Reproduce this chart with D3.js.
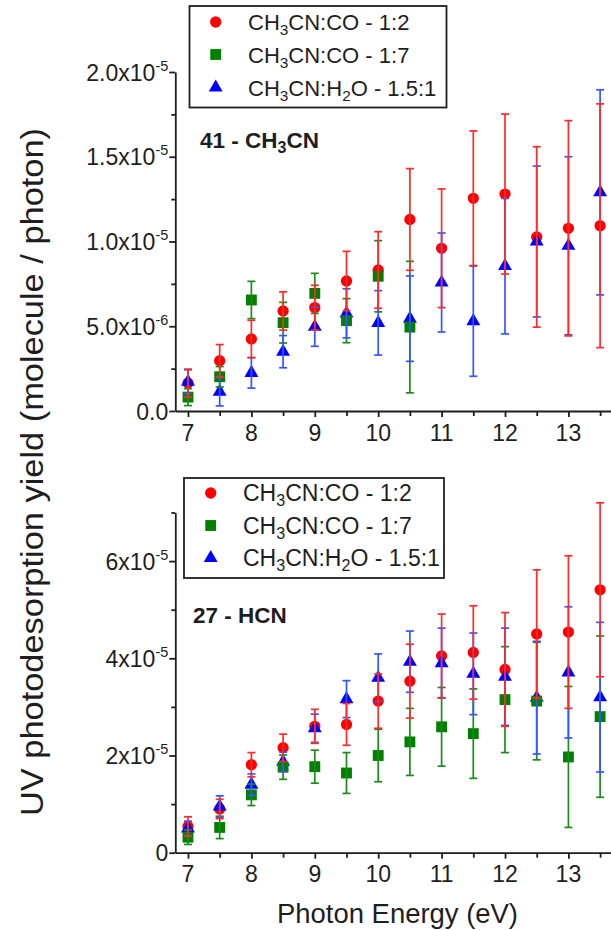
<!DOCTYPE html>
<html>
<head>
<meta charset="utf-8">
<script src="https://cdn.jsdelivr.net/npm/d3@7"></script>
<style>
  html, body { margin: 0; padding: 0; background: #fff; }
  svg { display: block; font-family: "Liberation Sans", Arial, Helvetica, sans-serif; }
</style>
</head>
<body>
<svg id="chart" width="611" height="930"></svg>
<script>
// Photon energies (eV) shared by both panels
const energy = [7, 7.5, 8, 8.5, 9, 9.5, 10, 10.5, 11, 11.5, 12, 12.5, 13, 13.5];

// Panel 1: m/z 41 (CH3CN) yields, molecule/photon
const ch3cn_co12 = [1.65e-6, 2.97e-6, 4.25e-6, 5.9e-6, 6.1e-6, 7.67e-6, 8.32e-6, 11.3e-6, 9.6e-6, 12.55e-6, 12.8e-6, 10.27e-6, 10.78e-6, 10.93e-6];
const ch3cn_co12_err = [0.82e-6, 0.95e-6, 1.1e-6, 1.13e-6, 1.32e-6, 1.75e-6, 2.26e-6, 3.0e-6, 3.5e-6, 3.97e-6, 4.72e-6, 5.32e-6, 6.35e-6, 7.19e-6];
const ch3cn_co17 = [0.82e-6, 2.02e-6, 6.55e-6, 5.21e-6, 6.94e-6, 5.33e-6, 7.95e-6, 4.95e-6];
const ch3cn_co17_err = [0.5e-6, 0.6e-6, 1.1e-6, 1.2e-6, 1.18e-6, 1.3e-6, 2.1e-6, 3.88e-6];
const ch3cn_h2o = [1.73e-6, 1.14e-6, 2.25e-6, 3.5e-6, 4.97e-6, 5.76e-6, 5.2e-6, 5.45e-6, 7.58e-6, 5.3e-6, 8.55e-6, 10.0e-6, 9.75e-6, 12.9e-6];
const ch3cn_h2o_err = [0.7e-6, 0.84e-6, 0.9e-6, 0.95e-6, 1.15e-6, 1.45e-6, 1.9e-6, 2.52e-6, 2.92e-6, 3.25e-6, 4.0e-6, 4.45e-6, 5.25e-6, 6.05e-6];

// Panel 2: m/z 27 (HCN) yields, molecule/photon
const hcn_co12 = [0.54e-5, 0.9e-5, 1.81e-5, 2.16e-5, 2.6e-5, 2.64e-5, 3.12e-5, 3.53e-5, 4.05e-5, 4.12e-5, 3.77e-5, 4.5e-5, 4.54e-5, 5.41e-5];
const hcn_co12_err = [0.2e-5, 0.2e-5, 0.25e-5, 0.28e-5, 0.35e-5, 0.43e-5, 0.56e-5, 0.76e-5, 0.86e-5, 0.96e-5, 1.17e-5, 1.32e-5, 1.57e-5, 1.79e-5];
const hcn_co17 = [0.32e-5, 0.52e-5, 1.19e-5, 1.76e-5, 1.77e-5, 1.64e-5, 2.0e-5, 2.28e-5, 2.59e-5, 2.45e-5, 3.15e-5, 3.12e-5, 1.97e-5, 2.8e-5];
const hcn_co17_err = [0.15e-5, 0.23e-5, 0.22e-5, 0.25e-5, 0.34e-5, 0.42e-5, 0.54e-5, 0.69e-5, 0.81e-5, 0.92e-5, 1.09e-5, 1.21e-5, 1.45e-5, 1.66e-5];
const hcn_h2o = [0.5e-5, 0.95e-5, 1.4e-5, 1.87e-5, 2.56e-5, 3.16e-5, 3.6e-5, 3.93e-5, 3.9e-5, 3.68e-5, 3.62e-5, 3.19e-5, 3.71e-5, 3.2e-5];
const hcn_h2o_err = [0.15e-5, 0.22e-5, 0.22e-5, 0.2e-5, 0.29e-5, 0.38e-5, 0.49e-5, 0.63e-5, 0.72e-5, 0.84e-5, 1.0e-5, 1.16e-5, 1.35e-5, 1.54e-5];

// Legend entries: alternating normal text / subscript pieces
const seriesNames = [
  ["CH", "3", "CN:CO - 1:2"],
  ["CH", "3", "CN:CO - 1:7"],
  ["CH", "3", "CN:H", "2", "O - 1.5:1"]
];

// Axis ticks and labels
const xMajor = [7, 8, 9, 10, 11, 12, 13];
const xMinor = [7.5, 8.5, 9.5, 10.5, 11.5, 12.5, 13.5];
const topYMajor = [0, 5e-6, 1e-5, 1.5e-5, 2e-5];
const topYMinor = [2.5e-6, 7.5e-6, 1.25e-5, 1.75e-5];
const topYLabels = [["0.0", null], ["5.0x10", "-6"], ["1.0x10", "-5"], ["1.5x10", "-5"], ["2.0x10", "-5"]];
const botYMajor = [0, 2e-5, 4e-5, 6e-5];
const botYMinor = [1e-5, 3e-5, 5e-5, 7e-5];
const botYLabels = [["0", null], ["2x10", "-5"], ["4x10", "-5"], ["6x10", "-5"]];

const COLORS = { red: "#ff0000", green: "#007f00", blue: "#0000ff" };
const BAR = { red: "#ff2a2a", green: "#1a8c1a", blue: "#3556ff" };
const INK = "#1e1e1e";

const svg = d3.select("#chart");
const x = d3.scaleLinear().domain([6.8, 13.7]).range([175.3, 612.8]);

const symbolFor = {
  red: d3.symbol().type(d3.symbolCircle).size(100),
  green: d3.symbol().type(d3.symbolSquare).size(118),
  blue: d3.symbol().type(d3.symbolTriangle).size(84)
};

function drawAxes(g, y, yMajor, yMinor, yLabels) {
  const x0 = x.range()[0];
  const y0 = y.range()[0];
  // x axis
  const xa = g.append("g").attr("transform", `translate(0,${y0})`);
  xa.call(d3.axisBottom(x).tickValues(xMajor).tickSize(6).tickSizeOuter(0).tickFormat(""));
  xa.append("g").call(d3.axisBottom(x).tickValues(xMinor).tickSize(5).tickSizeOuter(0).tickFormat(""))
    .select(".domain").remove();
  xa.selectAll(".domain, line").attr("stroke", INK).attr("stroke-width", 1.8);
  xa.selectAll(".xlab").data(xMajor).join("text")
    .attr("x", d => x(d)).attr("y", 29.5)
    .attr("text-anchor", "middle").attr("font-size", 23).attr("fill", INK)
    .text(d => d);

  // y axis
  const ya = g.append("g").attr("transform", `translate(${x0},0)`);
  ya.call(d3.axisLeft(y).tickValues(yMajor).tickSize(6).tickSizeOuter(0).tickFormat(""));
  ya.append("g").call(d3.axisLeft(y).tickValues(yMinor).tickSize(4).tickSizeOuter(0).tickFormat(""))
    .select(".domain").remove();
  ya.selectAll(".domain, line").attr("stroke", INK).attr("stroke-width", 1.8);

  yMajor.forEach((v, i) => {
    const [mant, exp] = yLabels[i];
    const t = g.append("text")
      .attr("x", x0 - 7).attr("y", y(v) + 8.5)
      .attr("text-anchor", "end").attr("font-size", 23).attr("fill", INK);
    t.append("tspan").text(mant);
    if (exp) {
      t.append("tspan").attr("font-size", 14.5).attr("dy", -10).text(exp);
    }
  });
}

function makeSeries(vals, errs, key) {
  return { pts: vals.map((v, i) => ({ e: energy[i], v, err: errs[i] })), key };
}

function drawPanel(g, y, series) {
  // symbols first
  series.forEach(s => {
    g.append("g").selectAll("path").data(s.pts).join("path")
      .attr("d", symbolFor[s.key])
      .attr("transform", d => `translate(${x(d.e)},${y(d.v)})`)
      .attr("fill", COLORS[s.key]);
  });
  // error bars drawn over the symbols
  const cap = 4;
  series.slice().reverse().forEach(s => {
    const eg = g.append("g").attr("stroke", BAR[s.key]).attr("stroke-width", 1.7).attr("fill", "none");
    eg.selectAll(".v").data(s.pts).join("line")
      .attr("x1", d => x(d.e)).attr("x2", d => x(d.e))
      .attr("y1", d => y(d.v + d.err)).attr("y2", d => y(d.v - d.err));
    eg.selectAll(".t").data(s.pts).join("line")
      .attr("x1", d => x(d.e) - cap).attr("x2", d => x(d.e) + cap)
      .attr("y1", d => y(d.v + d.err)).attr("y2", d => y(d.v + d.err));
    eg.selectAll(".b").data(s.pts).join("line")
      .attr("x1", d => x(d.e) - cap).attr("x2", d => x(d.e) + cap)
      .attr("y1", d => y(d.v - d.err)).attr("y2", d => y(d.v - d.err));
  });
}

function richText(t, parts, subSize) {
  parts.forEach((p, j) => {
    const ts = t.append("tspan").text(p);
    if (j % 2 === 1) ts.attr("font-size", subSize).attr("dy", 5);
    else if (j > 0) ts.attr("dy", -5);
  });
}

function drawLegend(g, bx, by, bw, bh, symX, textX, rows, fs) {
  g.append("rect").attr("x", bx).attr("y", by).attr("width", bw).attr("height", bh)
    .attr("fill", "#fff").attr("stroke", INK).attr("stroke-width", 1.8);
  ["red", "green", "blue"].forEach((k, i) => {
    const cy = rows[i];
    g.append("path").attr("d", symbolFor[k]).attr("fill", COLORS[k])
      .attr("transform", `translate(${symX},${cy})`);
    const t = g.append("text").attr("x", textX).attr("y", cy + 8)
      .attr("font-size", fs).attr("fill", INK);
    richText(t, seriesNames[i], fs * 0.7);
  });
}

function panelLabel(g, px, py, parts) {
  const t = g.append("text").attr("x", px).attr("y", py)
    .attr("font-size", 22.5).attr("font-weight", "bold").attr("fill", INK);
  richText(t, parts, 16);
}

// ---- top panel: CH3CN ----
const yTop = d3.scaleLinear().domain([0, 2e-5]).range([411, 72]);
const gTop = svg.append("g");
drawAxes(gTop, yTop, topYMajor, topYMinor, topYLabels);
drawPanel(gTop, yTop, [
  makeSeries(ch3cn_co12, ch3cn_co12_err, "red"),
  makeSeries(ch3cn_h2o, ch3cn_h2o_err, "blue"),
  makeSeries(ch3cn_co17, ch3cn_co17_err, "green")
]);
panelLabel(gTop, 200, 148, ["41 - CH", "3", "CN"]);
drawLegend(gTop, 189.5, 6, 257, 101.5, 215.7, 248, [22, 54.5, 87.5], 22);

// ---- bottom panel: HCN ----
const yBot = d3.scaleLinear().domain([0, 7e-5]).range([852.7, 512.5]);
const gBot = svg.append("g");
drawAxes(gBot, yBot, botYMajor, botYMinor, botYLabels);
drawPanel(gBot, yBot, [
  makeSeries(hcn_co12, hcn_co12_err, "red"),
  makeSeries(hcn_h2o, hcn_h2o_err, "blue"),
  makeSeries(hcn_co17, hcn_co17_err, "green")
]);
panelLabel(gBot, 193, 623, ["27 - HCN"]);
drawLegend(gBot, 184, 478, 260, 100, 210.7, 243, [493, 525.5, 558], 23);

// ---- shared axis titles ----
svg.append("text")
  .attr("transform", "translate(43,472) rotate(-90)")
  .attr("text-anchor", "middle").attr("font-size", 31).attr("fill", INK)
  .attr("textLength", 688).attr("lengthAdjust", "spacingAndGlyphs")
  .text("UV photodesorption yield (molecule / photon)");

svg.append("text")
  .attr("x", 397.5).attr("y", 923)
  .attr("text-anchor", "middle").attr("font-size", 27).attr("fill", INK)
  .attr("textLength", 241).attr("lengthAdjust", "spacingAndGlyphs")
  .text("Photon Energy (eV)");
</script>
</body>
</html>
